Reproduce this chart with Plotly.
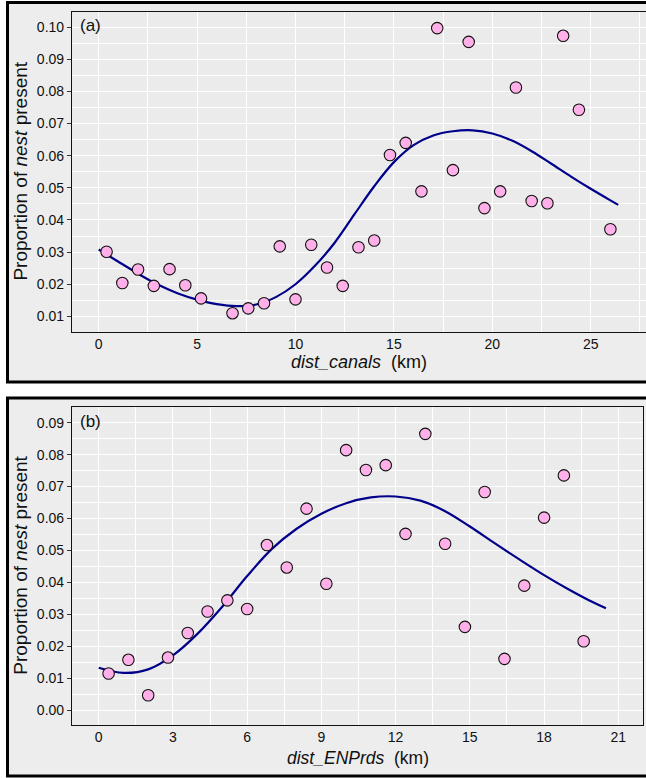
import plotly.graph_objects as go

# ---------------- data ----------------
canals_x = [0.4, 1.2, 2.0, 2.8, 3.6, 4.4, 5.2, 6.8, 7.6, 8.4, 9.2, 10.0, 10.8, 11.6,
            12.4, 13.2, 14.0, 14.8, 15.6, 16.4, 17.2, 18.0, 18.8, 19.6, 20.4, 21.2,
            22.0, 22.8, 23.6, 24.4, 26.0]
canals_y = [0.0301, 0.0204, 0.0246, 0.0195, 0.0247, 0.0197, 0.0156, 0.0110, 0.0125,
            0.0141, 0.0318, 0.0153, 0.0323, 0.0252, 0.0195, 0.0315, 0.0336, 0.0602,
            0.0640, 0.0489, 0.0997, 0.0555, 0.0954, 0.0437, 0.0489, 0.0812, 0.0459,
            0.0452, 0.0973, 0.0743, 0.0371]
canals_fit_x = [0, 1, 2, 3, 4, 5, 6, 7, 8, 9, 10, 11, 12, 13, 14, 15, 16, 17, 18, 19,
                20, 21, 22, 23, 24, 25, 26, 26.4]
canals_fit_y = [0.0308, 0.0270, 0.0233, 0.0199, 0.0172, 0.0152, 0.0138, 0.0132, 0.0137,
                0.0160, 0.0200, 0.0258, 0.0330, 0.0418, 0.0505, 0.0580, 0.0633, 0.0663,
                0.0676, 0.0679, 0.0669, 0.0647, 0.0614, 0.0575, 0.0535, 0.0497, 0.0461,
                0.0447]

roads_x = [0.4, 1.2, 2.0, 2.8, 3.6, 4.4, 5.2, 6.0, 6.8, 7.6, 8.4, 9.2, 10.0, 10.8,
           11.6, 12.4, 13.2, 14.0, 14.8, 15.6, 16.4, 17.2, 18.0, 18.8, 19.6]
roads_y = [0.0115, 0.0158, 0.0047, 0.0165, 0.0242, 0.0309, 0.0344, 0.0317, 0.0517,
           0.0447, 0.0631, 0.0396, 0.0814, 0.0752, 0.0767, 0.0552, 0.0865, 0.0521,
           0.0261, 0.0683, 0.0161, 0.0390, 0.0603, 0.0735, 0.0216]
roads_fit_x = [0, 1, 2, 3, 4, 5, 6, 7, 8, 9, 10, 11, 12, 13, 14, 15, 16, 17, 18, 19,
               20, 20.5]
roads_fit_y = [0.0133, 0.0117, 0.0128, 0.0172, 0.0240, 0.0325, 0.0420, 0.0505, 0.0568,
               0.0615, 0.0648, 0.0666, 0.0669, 0.0656, 0.0623, 0.0575, 0.0523, 0.0472,
               0.0423, 0.0378, 0.0337, 0.0319]

W, H = 646, 778
FONT = "Liberation Sans, Arial, sans-serif"
PT_FILL = "#FFB0E8"
LINE_COL = "#00008B"

fig = go.Figure()

# panel a
fig.add_trace(go.Scatter(x=canals_fit_x, y=canals_fit_y, mode="lines",
                         line=dict(color=LINE_COL, width=2.2, shape="spline", smoothing=1.0),
                         xaxis="x", yaxis="y", showlegend=False, hoverinfo="skip"))
fig.add_trace(go.Scatter(x=canals_x, y=canals_y, mode="markers",
                         marker=dict(size=11.5, color=PT_FILL, line=dict(color="#111111", width=1.1)),
                         xaxis="x", yaxis="y", showlegend=False))
# panel b
fig.add_trace(go.Scatter(x=roads_fit_x, y=roads_fit_y, mode="lines",
                         line=dict(color=LINE_COL, width=2.2, shape="spline", smoothing=1.0),
                         xaxis="x2", yaxis="y2", showlegend=False, hoverinfo="skip"))
fig.add_trace(go.Scatter(x=roads_x, y=roads_y, mode="markers",
                         marker=dict(size=11.5, color=PT_FILL, line=dict(color="#111111", width=1.1)),
                         xaxis="x2", yaxis="y2", showlegend=False))


def px(v):
    return v / W


def py(v):
    return 1 - v / H


TICKFONT = dict(family=FONT, size=14, color="#111111")
grid_common = dict(showgrid=True, gridcolor="white", gridwidth=1.4, zeroline=False)
line_common = dict(showline=True, linecolor="#111111", linewidth=1.2, mirror=True)
tick_common = dict(ticks="outside", ticklen=4, tickwidth=1, tickcolor="#333333")

# plot-area pixel boxes
A = dict(l=72, r=646, t=11.7, b=331.5)
B = dict(l=72, r=643.3, t=407, b=724.5)
XA_RANGE = [-1.357, 27.81]
XB_RANGE = [-1.079, 22.01]

fig.update_layout(
    width=W, height=H, margin=dict(l=0, r=0, t=0, b=0),
    paper_bgcolor="white", plot_bgcolor="#EBEBEB",
    # main x axes: labels + grid (no tick marks so labels sit close to the axis)
    xaxis=dict(domain=[px(A["l"]), px(A["r"])], anchor="y", range=XA_RANGE,
               tick0=0, dtick=5, ticks="", tickfont=TICKFONT,
               minor=dict(dtick=2.5, showgrid=True, gridcolor="white", gridwidth=0.9),
               **grid_common, **line_common),
    yaxis=dict(domain=[py(A["b"]), py(A["t"])], anchor="x", range=[0.0053, 0.1048],
               tick0=0, dtick=0.01, tickformat=".2f", tickfont=TICKFONT,
               minor=dict(dtick=0.005, showgrid=True, gridcolor="white", gridwidth=0.9),
               **grid_common, **line_common, **tick_common),
    xaxis2=dict(domain=[px(B["l"]), px(B["r"])], anchor="y2", range=XB_RANGE,
                tick0=0, dtick=3, ticks="", tickfont=TICKFONT,
                minor=dict(dtick=1.5, showgrid=True, gridcolor="white", gridwidth=0.9),
                **grid_common, **line_common),
    yaxis2=dict(domain=[py(B["b"]), py(B["t"])], anchor="x2", range=[-0.00444, 0.0949],
                tick0=0, dtick=0.01, tickformat=".2f", tickfont=TICKFONT,
                minor=dict(dtick=0.005, showgrid=True, gridcolor="white", gridwidth=0.9),
                **grid_common, **line_common, **tick_common),
    # overlay x axes that only draw the outside tick marks
    xaxis3=dict(overlaying="x", anchor="y", side="bottom", range=XA_RANGE, matches="x",
                tick0=0, dtick=5, showticklabels=False, showgrid=False, zeroline=False,
                showline=False, **tick_common),
    xaxis4=dict(overlaying="x2", anchor="y2", side="bottom", range=XB_RANGE, matches="x2",
                tick0=0, dtick=3, showticklabels=False, showgrid=False, zeroline=False,
                showline=False, **tick_common),
)

shapes = []
for (top, bot, box) in [(2.5, 382, A), (398, 776, B)]:
    # outer grey frame
    shapes.append(dict(type="rect", xref="paper", yref="paper", layer="below",
                       x0=px(7.5), x1=px(660), y0=py(bot), y1=py(top),
                       fillcolor="#EDEDED", line=dict(color="black", width=3)))
    # plot-area background
    shapes.append(dict(type="rect", xref="paper", yref="paper", layer="below",
                       x0=px(box["l"]), x1=px(box["r"]), y0=py(box["b"]), y1=py(box["t"]),
                       fillcolor="#EBEBEB", line=dict(width=0)))
fig.update_layout(shapes=shapes)

ytitle_font = dict(family=FONT, size=19, color="#111111")
xtitle_font = dict(family=FONT, size=18, color="#111111")
ann = []
ann.append(dict(text="Proportion of <i>nest</i> present", x=px(21), y=py((A["t"] + A["b"]) / 2),
                xref="paper", yref="paper", textangle=-90, showarrow=False,
                xanchor="center", yanchor="middle", font=ytitle_font))
ann.append(dict(text="<i>dist_canals</i>&nbsp; (km)", x=px((A["l"] + A["r"]) / 2), y=py(362),
                xref="paper", yref="paper", showarrow=False,
                xanchor="center", yanchor="middle", font=xtitle_font))
ann.append(dict(text="Proportion of <i>nest</i> present", x=px(21), y=py((B["t"] + B["b"]) / 2),
                xref="paper", yref="paper", textangle=-90, showarrow=False,
                xanchor="center", yanchor="middle", font=ytitle_font))
ann.append(dict(text="<i>dist_ENPrds</i>&nbsp; (km)", x=px((B["l"] + B["r"]) / 2), y=py(758),
                xref="paper", yref="paper", showarrow=False,
                xanchor="center", yanchor="middle", font=dict(family=FONT, size=17.5, color="#111111")))
ann.append(dict(text="(a)", x=px(78), y=py(26), xref="paper", yref="paper", showarrow=False,
                xanchor="left", yanchor="middle", font=dict(family=FONT, size=17, color="#111111")))
ann.append(dict(text="(b)", x=px(78), y=py(421.5), xref="paper", yref="paper", showarrow=False,
                xanchor="left", yanchor="middle", font=dict(family=FONT, size=17, color="#111111")))
fig.update_layout(annotations=ann)

fig.write_html("out.html")
